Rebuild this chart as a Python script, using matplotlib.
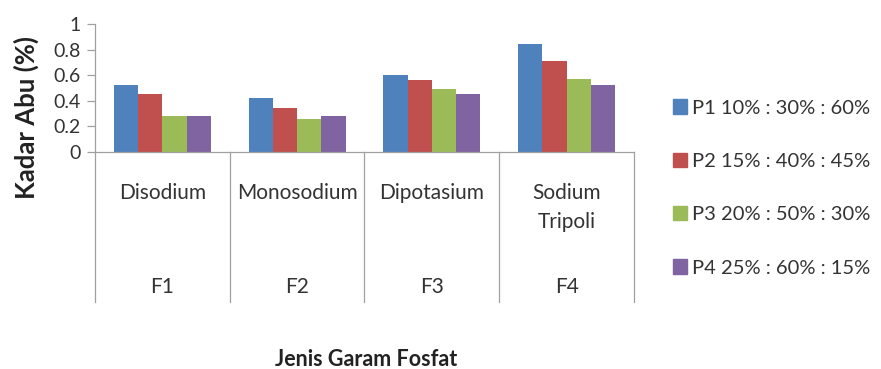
import numpy as np
import matplotlib
matplotlib.use("Agg")
import matplotlib.pyplot as plt
from matplotlib.patches import Patch

plt.rcParams['font.family'] = ['Lato', 'DejaVu Sans']

formulas = ['F1', 'F2', 'F3', 'F4']
salts = ['Disodium', 'Monosodium', 'Dipotasium', 'Sodium\nTripoli']
series = ['P1 10% : 30% : 60%', 'P2 15% : 40% : 45%',
          'P3 20% : 50% : 30%', 'P4 25% : 60% : 15%']
p1 = [0.52, 0.42, 0.60, 0.84]
p2 = [0.45, 0.34, 0.56, 0.71]
p3 = [0.28, 0.26, 0.49, 0.57]
p4 = [0.285, 0.28, 0.45, 0.52]
colours = ['#4F81BD', '#C0504D', '#9BBB59', '#8064A2']

fig = plt.figure(figsize=(8.81, 3.69), dpi=100)
ax = fig.add_axes([95/881, 1-152/369, 539/881, 128/369])

x = np.arange(len(formulas))
w = 0.18
for i, vals in enumerate([p1, p2, p3, p4]):
    ax.bar(x + (i - 1.5) * w, vals, width=w, color=colours[i], zorder=2)

ax.set_xlim(-0.5, 3.5)
ax.set_ylim(0, 1)
ax.set_yticks([0, 0.2, 0.4, 0.6, 0.8, 1])
ax.set_yticklabels(['0', '0.2', '0.4', '0.6', '0.8', '1'])
ax.tick_params(axis='y', labelsize=14, labelcolor='#333333', color='#A0A0A0',
               length=6, width=0.9, pad=4)
ax.set_xticks([])
for s in ['top', 'right']:
    ax.spines[s].set_visible(False)
for s in ['left', 'bottom']:
    ax.spines[s].set_color('#A0A0A0')
    ax.spines[s].set_linewidth(0.9)

ax.set_ylabel('Kadar Abu (%)', fontsize=18.5, fontweight='bold', color='#222222')
ax.yaxis.set_label_coords(-0.104, 0.27)

# multi-level category axis
trans = ax.get_xaxis_transform()
for b in np.arange(-0.5, 4.0, 1.0):
    ax.plot([b, b], [0, -1.17], transform=trans, color='#A0A0A0', lw=0.9, clip_on=False)
for i in range(len(formulas)):
    ax.text(x[i], -0.245, salts[i], transform=trans, ha='center', va='top',
            fontsize=15, color='#333333', linespacing=1.55)
    ax.text(x[i], -1.055, formulas[i], transform=trans, ha='center', va='center',
            fontsize=15, color='#333333')

fig.text(366/881, 1-359/369, 'Jenis Garam Fosfat', ha='center', va='center',
         fontsize=15.5, fontweight='bold', color='#222222')

handles = [Patch(color=c) for c in colours]
fig.legend(handles, series, loc='center left', bbox_to_anchor=(673/881, 1-188/369),
           frameon=False, fontsize=14.5, handlelength=0.7, handleheight=0.7,
           handletextpad=0.25, labelspacing=1.8, borderaxespad=0, borderpad=0,
           labelcolor='#333333')

fig.savefig('out.png', dpi=100)
